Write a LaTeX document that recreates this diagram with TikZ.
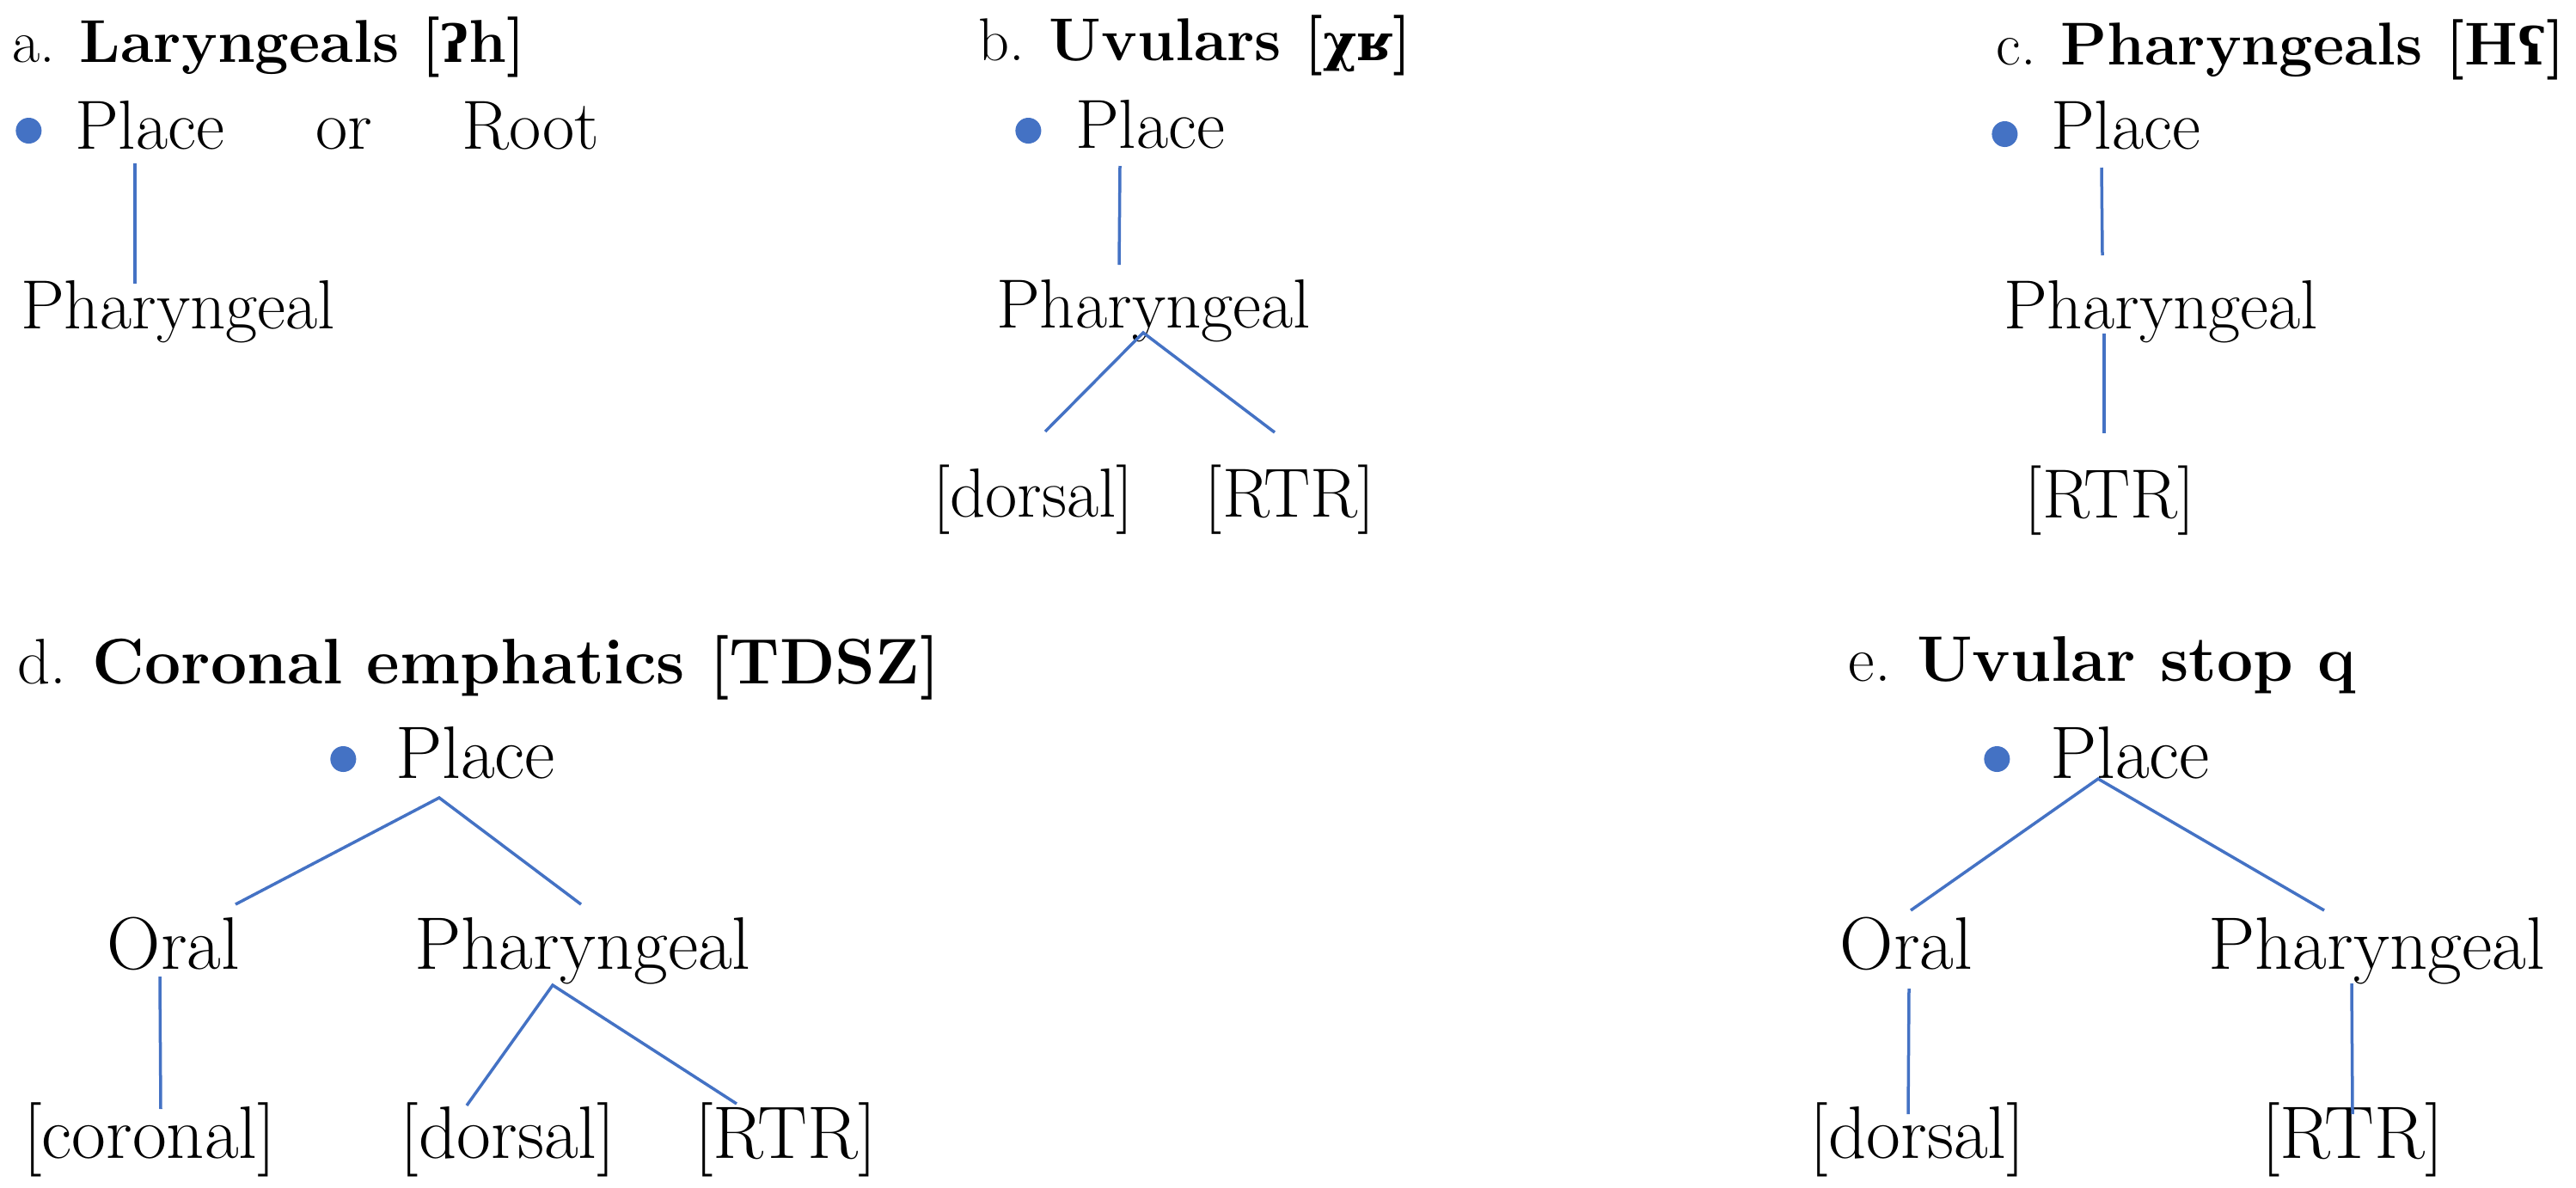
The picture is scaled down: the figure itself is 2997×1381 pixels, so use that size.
\documentclass[tikz,border=0pt]{standalone}
\usepackage{fontspec}
\usepackage{xcolor}
\usetikzlibrary{calc}
\newfontfamily\ipafont{DejaVu Serif}[Scale=0.85]
\definecolor{lineblue}{HTML}{4472C4}
\tikzset{
  lab/.style = {inner sep = 0, anchor = base, font = \fontsize{23}{27}\selectfont},
  labl/.style = {lab, font = \fontsize{24.6}{29}\selectfont},
  ttl/.style = {inner sep = 0, anchor = base west, font = \fontsize{20}{24}\selectfont},
  ttll/.style = {ttl, font = \fontsize{21.3}{25}\selectfont},
  bullet/.style = {circle, fill = lineblue, inner sep = 0, minimum size = 0.3cm},
  branch/.style = {draw = lineblue, line width = 0.035cm}
}

\begin{document}
\begin{tikzpicture}[x = 0.01cm, y = -0.01cm]
      \useasboundingbox (0,0) rectangle (2997,1381);
      \node[ttl] (hdA) at (14,72) {a. \textbf{Laryngeals [{\ipafont ʔ}h]}};
      \node[lab] (plA) at (174,173) {Place};
      \node[bullet] (dtA) at ($(plA.base west)+(-53,-21)$) {};
      \node[lab] (orA) at (400,173) {or};
      \node[lab] (rtA) at (617,173) {Root};
      \node[lab] (phA) at (207,382) {Pharyngeal};
      \draw[branch] ($(plA.base)+(-17,17)$) -- ($(phA.base)+(-50,-52)$);

      \node[ttl] (hdB) at (1138,70) {b. \textbf{Uvulars [{\ipafont χʁ}]}};
      \node[lab] (plB) at (1338,172) {Place};
      \node[bullet] (dtB) at ($(plB.base west)+(-54,-20)$) {};
      \node[lab] (phB) at (1342,381) {Pharyngeal};
      \node[lab] (drB) at (1202,601) {[dorsal]};
      \node[lab] (rtrB) at (1501,601) {[RTR]};
      \draw[branch] ($(plB.base)+(-35,21)$) -- ($(phB.base)+(-40,-73)$);
      \draw[branch] ($(drB.base)+(14,-99)$) -- ($(phB.base)+(-12,6)$) -- ($(rtrB.base)+(-18,-98)$);

      \node[ttl] (hdC) at (2322,75) {c. \textbf{Pharyngeals [H{\ipafont ʕ}]}};
      \node[lab] (plC) at (2473,173) {Place};
      \node[bullet] (dtC) at ($(plC.base west)+(-53,-17)$) {};
      \node[lab] (phC) at (2514,382) {Pharyngeal};
      \node[lab] (rtrC) at (2455,602) {[RTR]};
      \draw[branch] ($(plC.base)+(-28,22)$) -- ($(phC.base)+(-68,-85)$);
      \draw[branch] ($(phC.base)+(-66,6)$) -- ($(rtrC.base)+(-7,-98)$);

      \node[ttll] (hdD) at (20,795) {d. \textbf{Coronal emphatics [TDSZ]}};
      \node[labl] (plD) at (553,905) {Place};
      \node[bullet] (dtD) at ($(plD.base west)+(-60,-22)$) {};
      \node[labl] (orlD) at (202,1127) {Oral};
      \node[labl] (phD) at (678,1127) {Pharyngeal};
      \node[labl] (crD) at (174,1347) {[coronal]};
      \node[labl] (drD) at (591,1347) {[dorsal]};
      \node[labl] (rtrD) at (914,1347) {[RTR]};
      \draw[branch] ($(orlD.base)+(72,-75)$) -- ($(plD.base)+(-42,23)$) -- ($(phD.base)+(-2,-75)$);
      \draw[branch] ($(orlD.base)+(-16,9)$) -- ($(crD.base)+(13,-57)$);
      \draw[branch] ($(drD.base)+(-48,-61)$) -- ($(phD.base)+(-35,19)$) -- ($(rtrD.base)+(-57,-63)$);

      \node[ttll] (hdE) at (2150,792) {e. \textbf{Uvular stop q}};
      \node[labl] (plE) at (2478,905) {Place};
      \node[bullet] (dtE) at ($(plE.base west)+(-61,-22)$) {};
      \node[labl] (orlE) at (2218,1127) {Oral};
      \node[labl] (phE) at (2765,1127) {Pharyngeal};
      \node[labl] (drE) at (2231,1347) {[dorsal]};
      \node[labl] (rtrE) at (2737,1347) {[RTR]};
      \draw[branch] ($(orlE.base)+(5,-68)$) -- ($(plE.base)+(-37,1)$) -- ($(phE.base)+(-61,-68)$);
      \draw[branch] ($(orlE.base)+(3,23)$) -- ($(drE.base)+(-11,-51)$);
      \draw[branch] ($(phE.base)+(-29,17)$) -- ($(rtrE.base)+(0,-51)$);
\end{tikzpicture}
\end{document}
